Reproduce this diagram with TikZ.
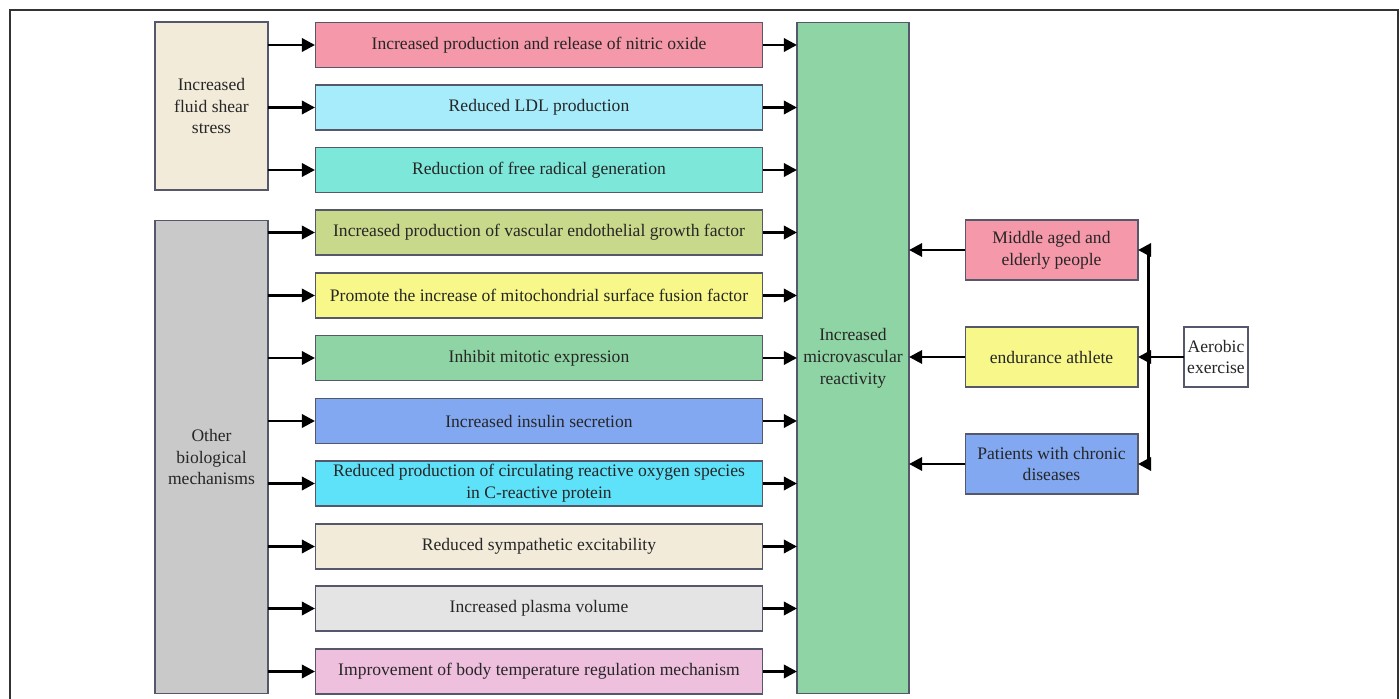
\documentclass[tikz,border=0pt]{standalone}
\usepackage{fontspec}
\setmainfont{Liberation Serif}
\usetikzlibrary{arrows.meta}

\definecolor{cShear}{HTML}{F2EBDA}
\definecolor{cOther}{HTML}{C9C9C9}
\definecolor{cPink}{HTML}{F598A9}
\definecolor{cSky}{HTML}{A6ECFA}
\definecolor{cTurq}{HTML}{7DE8DA}
\definecolor{cOlive}{HTML}{C9D98C}
\definecolor{cYellow}{HTML}{F8F88A}
\definecolor{cGreen}{HTML}{8FD4A4}
\definecolor{cBlue}{HTML}{82A8F2}
\definecolor{cCyan}{HTML}{5EE2FA}
\definecolor{cGrey}{HTML}{E4E4E4}
\definecolor{cMauve}{HTML}{EEC0DE}
\definecolor{cEdge}{HTML}{55586A}

\begin{document}
\begin{tikzpicture}[x=0.02cm,y=-0.02cm,
  box/.style={draw=cEdge,line width=0.6pt,inner sep=0pt,outer sep=0pt,
    align=center,text=black!85,font=\fontsize{10}{12.5}\selectfont},
  midbox/.style={box,minimum width=8.96cm,minimum height=0.9cm},
  sidebox/.style={box,minimum width=3.46cm,minimum height=1.2cm},
  arr/.style={line width=1.7pt,-{Triangle[length=7.5pt,width=7.5pt]}}]
  \useasboundingbox (0,0) rectangle (1400,699);
  % frame, open at the bottom
  \draw[line width=1.1pt,black!80] (10,705) -- (10,10) -- (1398,10) -- (1398,705);
  % left sources
  \node[box,fill=cShear,minimum width=2.26cm,minimum height=3.36cm] (shear) at (211.5,106) {Increased\\fluid shear\\stress};
  \node[box,fill=cOther,minimum width=2.26cm,minimum height=9.48cm] (other) at (211.5,457) {Other\\biological\\mechanisms};
  % mechanisms
  \node[midbox,fill=cPink] (m1) at (539,45) {Increased production and release of nitric oxide};
  \node[midbox,fill=cSky] (m2) at (539,107.5) {Reduced LDL production};
  \node[midbox,fill=cTurq] (m3) at (539,170) {Reduction of free radical generation};
  \node[midbox,fill=cOlive] (m4) at (539,232.5) {Increased production of vascular endothelial growth factor};
  \node[midbox,fill=cYellow] (m5) at (539,295.5) {Promote the increase of mitochondrial surface fusion factor};
  \node[midbox,fill=cGreen] (m6) at (539,358) {Inhibit mitotic expression};
  \node[midbox,fill=cBlue] (m7) at (539,421) {Increased insulin secretion};
  \node[midbox,fill=cCyan] (m8) at (539,483.5) {Reduced production of circulating reactive oxygen species\\in C-reactive protein};
  \node[midbox,fill=cShear] (m9) at (539,546.5) {Reduced sympathetic excitability};
  \node[midbox,fill=cGrey] (m10) at (539,608.5) {Increased plasma volume};
  \node[midbox,fill=cMauve] (m11) at (539,671.5) {Improvement of body temperature regulation mechanism};
  % outcome
  \node[box,fill=cGreen,minimum width=2.24cm,minimum height=13.44cm] (react) at (853,358) {Increased\\microvascular\\reactivity};
  % populations
  \node[sidebox,fill=cPink] (p1) at (1051.5,250) {Middle aged and\\elderly people};
  \node[sidebox,fill=cYellow] (p2) at (1051.5,357) {endurance athlete};
  \node[sidebox,fill=cBlue] (p3) at (1051.5,464) {Patients with chronic\\diseases};
  \node[box,fill=white,minimum width=1.28cm,minimum height=1.2cm] (aero) at (1216,357) {Aerobic\\exercise};
  \coordinate (split) at (1148,357);

  \foreach \m in {m1,m2,m3}
    \draw[arr] (shear.east |- \m.west) -- (\m.west);
  \foreach \m in {m4,m5,m6,m7,m8,m9,m10,m11}
    \draw[arr] (other.east |- \m.west) -- (\m.west);
  \foreach \m in {m1,m2,m3,m4,m5,m6,m7,m8,m9,m10,m11}
    \draw[arr] (\m.east) -- (react.west |- \m.east);
  \foreach \p in {p1,p2,p3}
    \draw[arr] (\p.west) -- (react.east |- \p.west);
  \draw[line width=1.7pt] (aero.west) -- (split);
  \draw[line width=1.7pt] (split |- p1.east) -- (split |- p3.east);
  \foreach \p in {p1,p2,p3}
    \draw[arr] (split |- \p.east) -- (\p.east);
\end{tikzpicture}
\end{document}
